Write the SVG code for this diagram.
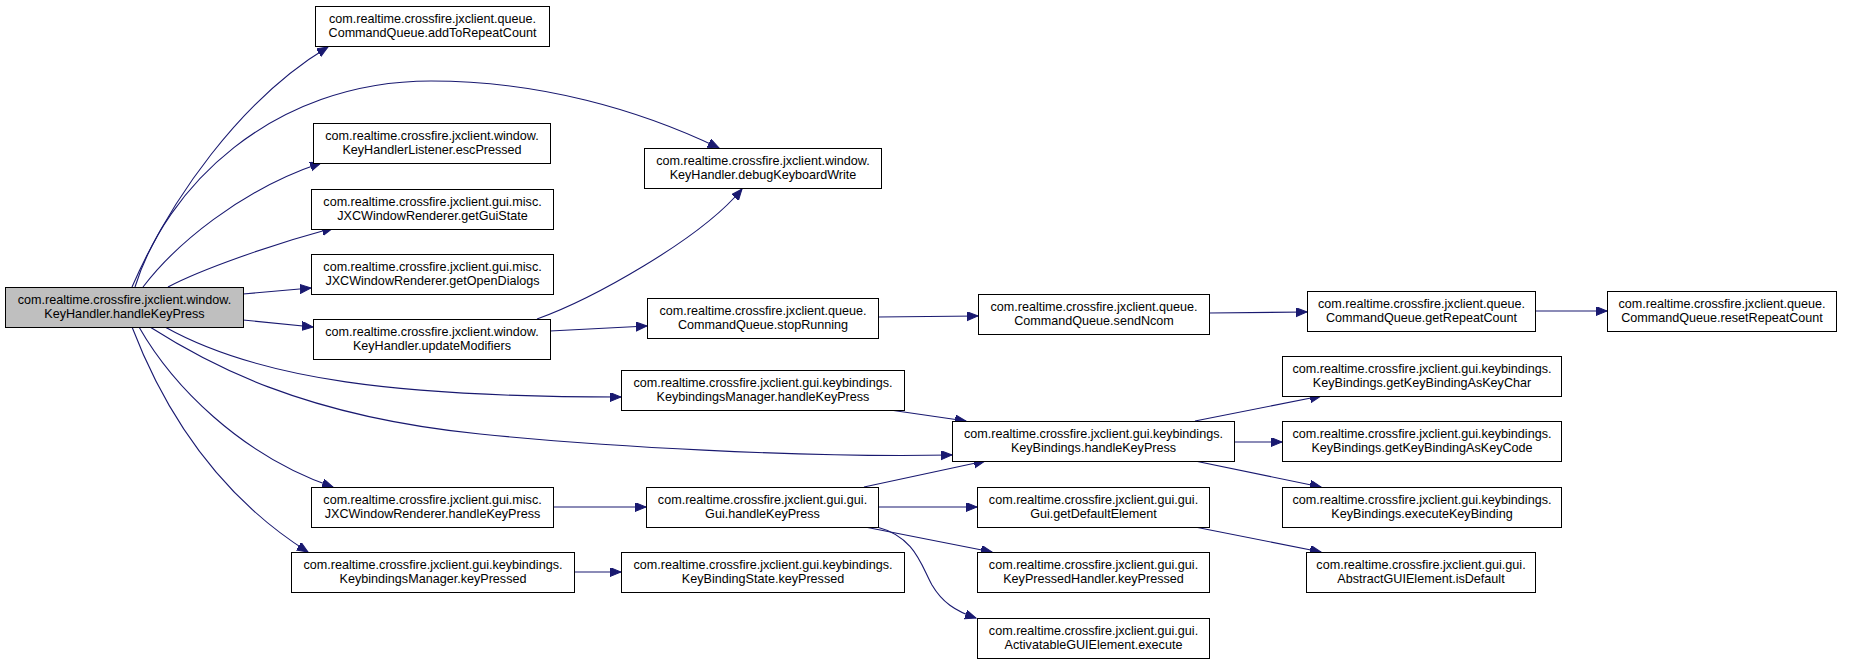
<svg xmlns="http://www.w3.org/2000/svg" width="1849" height="664" viewBox="0 0 1849 664">
<style>
.n rect{fill:#fff;stroke:#000;stroke-width:1}
.n.root rect{fill:#bfbfbf}
.n text{font-family:"Liberation Sans",Arial,Helvetica,sans-serif;font-size:12.6px;fill:#000;text-anchor:middle}
.e path{fill:none;stroke:#191970;stroke-width:1.1;marker-end:url(#ah)}
</style>
<defs>
<marker id="ah" markerWidth="12" markerHeight="10" refX="11" refY="4.5" orient="auto" markerUnits="userSpaceOnUse">
<path d="M0,0 L11,4.5 L0,9 z" fill="#191970" stroke="#191970" stroke-width="1"/>
</marker>
</defs>
<rect width="1849" height="664" fill="#fff"/>
<g id="edges" class="e">
<path d="M132,287 C170,200 240,100 328,47"/>
<path d="M135,287 C165,190 270,81 431,81 C540,81 640,110 719,148"/>
<path d="M143,287 C175,245 240,190 321,163"/>
<path d="M168,287 C200,270 270,245 333,228"/>
<path d="M243,294 L311,288"/>
<path d="M243,320 L313,327"/>
<path d="M165,327 C260,380 400,397 621,397"/>
<path d="M150,327 C205,362 300,416 480,434 C600,446 800,458 952,455"/>
<path d="M139,327 C172,385 240,455 333,487"/>
<path d="M132,327 C160,400 210,490 308,552"/>
<path d="M537,319 C590,300 700,240 742,189"/>
<path d="M550,331 L647,326"/>
<path d="M878,317 L978,316"/>
<path d="M1209,313 L1307,312"/>
<path d="M1535,311 L1607,311"/>
<path d="M890,410 L966,421"/>
<path d="M864,487 L985,461"/>
<path d="M553,507 L646,507"/>
<path d="M878,507 L977,507"/>
<path d="M865,527 L992,552"/>
<path d="M877,527 C915,537 921,565 932,585 C942,602 955,611 976,618"/>
<path d="M1195,527 L1321,552"/>
<path d="M1195,421 L1321,396"/>
<path d="M1234,442 L1282,442"/>
<path d="M1195,461 L1321,487"/>
<path d="M573,572 L621,572"/>
</g>
<g id="node1" class="n root"><rect x="5.5" y="287.5" width="238" height="40"/><text x="124.5" y="304">com.realtime.crossfire.jxclient.window.</text><text x="124.5" y="318">KeyHandler.handleKeyPress</text></g>
<g id="node2" class="n"><rect x="315.5" y="6.5" width="234" height="40"/><text x="432.5" y="23">com.realtime.crossfire.jxclient.queue.</text><text x="432.5" y="37">CommandQueue.addToRepeatCount</text></g>
<g id="node3" class="n"><rect x="313.5" y="123.5" width="237" height="40"/><text x="432" y="140">com.realtime.crossfire.jxclient.window.</text><text x="432" y="154">KeyHandlerListener.escPressed</text></g>
<g id="node4" class="n"><rect x="311.5" y="189.5" width="242" height="40"/><text x="432.5" y="206">com.realtime.crossfire.jxclient.gui.misc.</text><text x="432.5" y="220">JXCWindowRenderer.getGuiState</text></g>
<g id="node5" class="n"><rect x="311.5" y="254.5" width="242" height="40"/><text x="432.5" y="271">com.realtime.crossfire.jxclient.gui.misc.</text><text x="432.5" y="285">JXCWindowRenderer.getOpenDialogs</text></g>
<g id="node6" class="n"><rect x="313.5" y="319.5" width="237" height="40"/><text x="432" y="336">com.realtime.crossfire.jxclient.window.</text><text x="432" y="350">KeyHandler.updateModifiers</text></g>
<g id="node7" class="n"><rect x="311.5" y="487.5" width="242" height="40"/><text x="432.5" y="504">com.realtime.crossfire.jxclient.gui.misc.</text><text x="432.5" y="518">JXCWindowRenderer.handleKeyPress</text></g>
<g id="node8" class="n"><rect x="291.5" y="552.5" width="283" height="40"/><text x="433" y="569">com.realtime.crossfire.jxclient.gui.keybindings.</text><text x="433" y="583">KeybindingsManager.keyPressed</text></g>
<g id="node9" class="n"><rect x="644.5" y="148.5" width="237" height="40"/><text x="763" y="165">com.realtime.crossfire.jxclient.window.</text><text x="763" y="179">KeyHandler.debugKeyboardWrite</text></g>
<g id="node10" class="n"><rect x="647.5" y="298.5" width="231" height="40"/><text x="763" y="315">com.realtime.crossfire.jxclient.queue.</text><text x="763" y="329">CommandQueue.stopRunning</text></g>
<g id="node11" class="n"><rect x="621.5" y="370.5" width="283" height="40"/><text x="763" y="387">com.realtime.crossfire.jxclient.gui.keybindings.</text><text x="763" y="401">KeybindingsManager.handleKeyPress</text></g>
<g id="node12" class="n"><rect x="646.5" y="487.5" width="232" height="40"/><text x="762.5" y="504">com.realtime.crossfire.jxclient.gui.gui.</text><text x="762.5" y="518">Gui.handleKeyPress</text></g>
<g id="node13" class="n"><rect x="621.5" y="552.5" width="283" height="40"/><text x="763" y="569">com.realtime.crossfire.jxclient.gui.keybindings.</text><text x="763" y="583">KeyBindingState.keyPressed</text></g>
<g id="node14" class="n"><rect x="978.5" y="294.5" width="231" height="40"/><text x="1094" y="311">com.realtime.crossfire.jxclient.queue.</text><text x="1094" y="325">CommandQueue.sendNcom</text></g>
<g id="node15" class="n"><rect x="952.5" y="421.5" width="282" height="40"/><text x="1093.5" y="438">com.realtime.crossfire.jxclient.gui.keybindings.</text><text x="1093.5" y="452">KeyBindings.handleKeyPress</text></g>
<g id="node16" class="n"><rect x="977.5" y="487.5" width="232" height="40"/><text x="1093.5" y="504">com.realtime.crossfire.jxclient.gui.gui.</text><text x="1093.5" y="518">Gui.getDefaultElement</text></g>
<g id="node17" class="n"><rect x="977.5" y="552.5" width="232" height="40"/><text x="1093.5" y="569">com.realtime.crossfire.jxclient.gui.gui.</text><text x="1093.5" y="583">KeyPressedHandler.keyPressed</text></g>
<g id="node18" class="n"><rect x="977.5" y="618.5" width="232" height="40"/><text x="1093.5" y="635">com.realtime.crossfire.jxclient.gui.gui.</text><text x="1093.5" y="649">ActivatableGUIElement.execute</text></g>
<g id="node19" class="n"><rect x="1307.5" y="291.5" width="228" height="40"/><text x="1421.5" y="308">com.realtime.crossfire.jxclient.queue.</text><text x="1421.5" y="322">CommandQueue.getRepeatCount</text></g>
<g id="node20" class="n"><rect x="1282.5" y="356.5" width="279" height="40"/><text x="1422" y="373">com.realtime.crossfire.jxclient.gui.keybindings.</text><text x="1422" y="387">KeyBindings.getKeyBindingAsKeyChar</text></g>
<g id="node21" class="n"><rect x="1282.5" y="421.5" width="279" height="40"/><text x="1422" y="438">com.realtime.crossfire.jxclient.gui.keybindings.</text><text x="1422" y="452">KeyBindings.getKeyBindingAsKeyCode</text></g>
<g id="node22" class="n"><rect x="1282.5" y="487.5" width="279" height="40"/><text x="1422" y="504">com.realtime.crossfire.jxclient.gui.keybindings.</text><text x="1422" y="518">KeyBindings.executeKeyBinding</text></g>
<g id="node23" class="n"><rect x="1306.5" y="552.5" width="229" height="40"/><text x="1421" y="569">com.realtime.crossfire.jxclient.gui.gui.</text><text x="1421" y="583">AbstractGUIElement.isDefault</text></g>
<g id="node24" class="n"><rect x="1607.5" y="291.5" width="229" height="40"/><text x="1722" y="308">com.realtime.crossfire.jxclient.queue.</text><text x="1722" y="322">CommandQueue.resetRepeatCount</text></g>
</svg>
